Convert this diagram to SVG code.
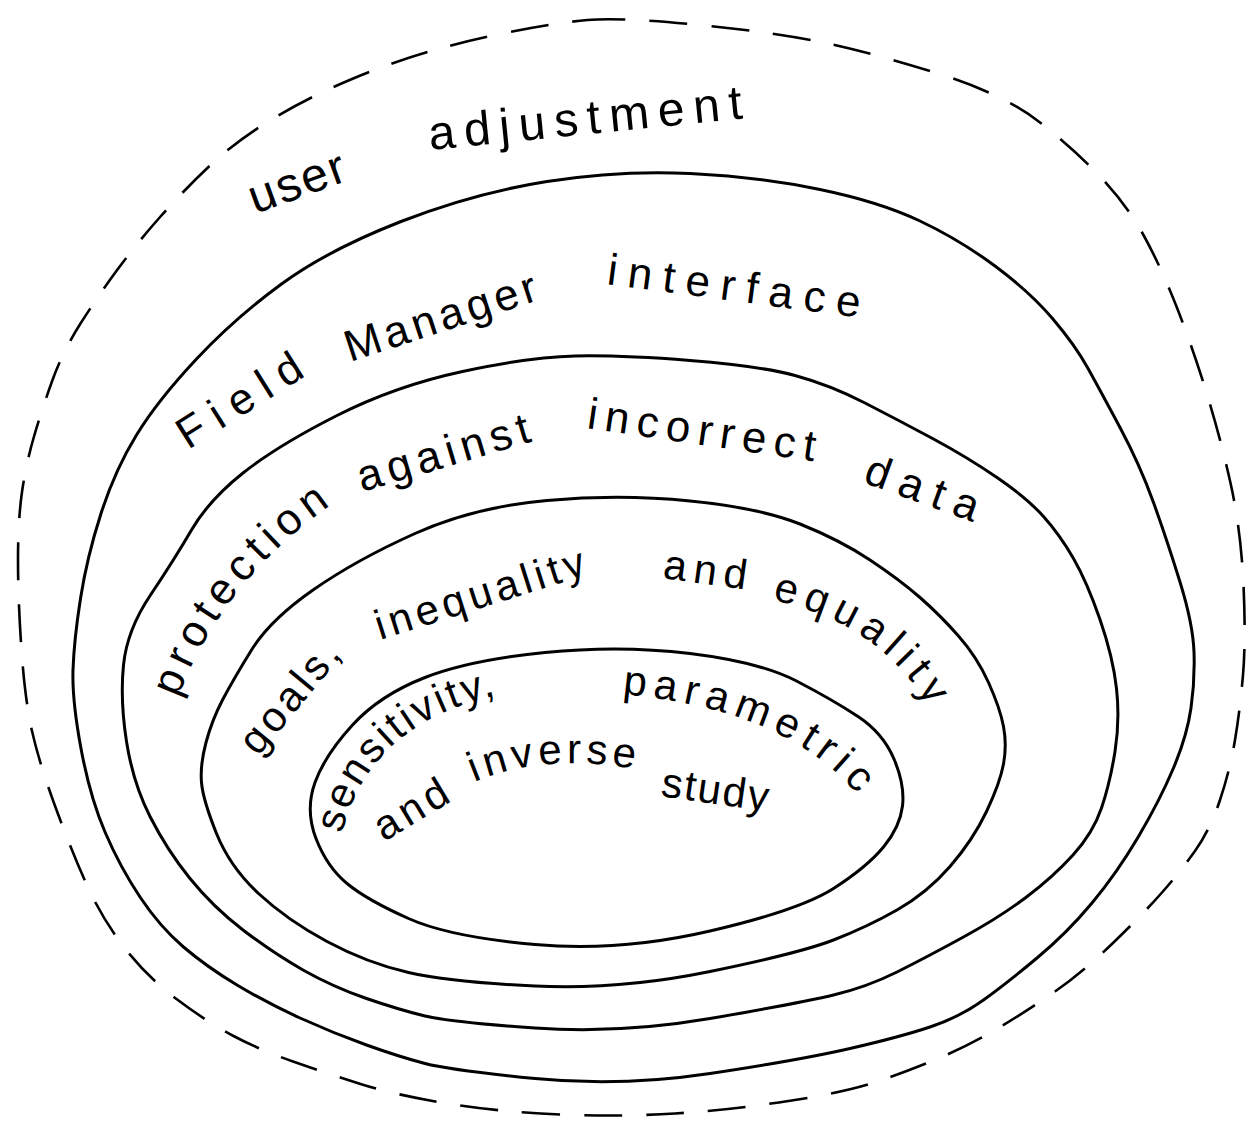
<svg xmlns="http://www.w3.org/2000/svg" width="1249" height="1129" viewBox="0 0 1249 1129">
<style>
.ring{fill:none;stroke:#000;stroke-width:3;stroke-linejoin:round}
.dash{stroke-dasharray:38 24;stroke-width:2.6}
.t{font-family:"Liberation Sans",Arial,sans-serif;fill:#000}
.lg{font-size:48px}
.md{font-size:44px}
.sm{font-size:42px}
</style>
<defs>
<path id="p-user" d="M 255 214 L 355 178"/>
<path id="p-adj" d="M 430 150 L 748 118"/>
<path id="p-field" d="M 188 450 L 312 372"/>
<path id="p-manager" d="M 350 362 L 545 298"/>
<path id="p-interface" d="M 606 284 L 862 318"/>
<path id="p-protection" d="M 178 698 Q 222 580 335 502"/>
<path id="p-against" d="M 362 492 L 537 440"/>
<path id="p-incorrect" d="M 586 428 L 818 462"/>
<path id="p-data" d="M 862 482 L 978 524"/>
<path id="p-goals" d="M 258 757 L 345 652"/>
<path id="p-inequality" d="M 380 640 L 595 572"/>
<path id="p-and1" d="M 662 578 L 748 590"/>
<path id="p-equality" d="M 772 600 Q 880 622 932 712"/>
<path id="p-sens" d="M 342 834 Q 370 720 504 694"/>
<path id="p-param" d="M 622 694 Q 790 710 860 798"/>
<path id="p-and2" d="M 384 842 L 460 796"/>
<path id="p-inverse" d="M 474 782 Q 547 752 640 770"/>
<path id="p-study" d="M 660 796 L 772 812"/>
</defs>
<rect width="1249" height="1129" fill="#fff"/>

<g id="ring-user-adjustment">
<path class="ring dash" d="M 587.5 20 Q 620 17 700 25 Q 780 33 830 44 Q 880 55 942.5 75 Q 1005 95 1040 122.5 Q 1075 150 1101 177.5 Q 1127 205 1144 236 Q 1161 267 1176.5 306.5 Q 1192 346 1206 391 Q 1220 436 1230.5 483 Q 1241 530 1243.5 585 Q 1246 640 1243 675 Q 1240 710 1235 740 Q 1230 770 1220 800 Q 1210 830 1195 851 Q 1180 872 1162 892.5 Q 1144 913 1113.5 942.5 Q 1083 972 1055 991.5 Q 1027 1011 998.5 1028 Q 970 1045 940.5 1057.5 Q 911 1070 879 1081 Q 847 1092 788.5 1101 Q 730 1110 675 1113.5 Q 620 1117 560 1114.5 Q 500 1112 447.5 1103.5 Q 395 1095 360.5 1084 Q 326 1073 293 1061.5 Q 260 1050 233.5 1036 Q 207 1022 176.5 999 Q 146 976 123.5 946.5 Q 101 917 85.5 882 Q 70 847 54.5 804.5 Q 39 762 32 731 Q 25 700 21.5 650 Q 18 600 18 560 Q 18 520 22 492 Q 26 464 34 436.5 Q 42 409 52.5 380 Q 63 351 80.5 323.5 Q 98 296 117.5 269.5 Q 137 243 160.5 216.5 Q 184 190 210 165.5 Q 236 141 271.5 119.5 Q 307 98 348.5 80.5 Q 390 63 427.5 52 Q 465 41 510 32 Q 555 23 587.5 20 Z"/>
<text class="t lg"><textPath href="#p-user" textLength="100" lengthAdjust="spacing">user</textPath></text>
<text class="t lg"><textPath href="#p-adj" textLength="315" lengthAdjust="spacing">adjustment</textPath></text>
</g>

<g id="ring-field-manager">
<path class="ring" d="M 547 181.5 Q 620 170 690 173.5 Q 760 177 820 189.5 Q 880 202 920 221 Q 960 240 995 266 Q 1030 292 1052.5 318.5 Q 1075 345 1087.5 367.5 Q 1100 390 1120 427.5 Q 1140 465 1153.5 502.5 Q 1167 540 1180 582 Q 1193 624 1194 652 Q 1195 680 1191 708 Q 1187 736 1173.5 768 Q 1160 800 1138.5 836.5 Q 1117 873 1092 903 Q 1067 933 1037 958 Q 1007 983 983.5 1000 Q 960 1017 930 1027 Q 900 1037 850 1048.5 Q 800 1060 710 1073.5 Q 620 1087 535 1078.5 Q 450 1070 425 1063.5 Q 400 1057 366.5 1045 Q 333 1033 300 1018 Q 267 1003 237 985 Q 207 967 183.5 947 Q 160 927 140 897 Q 120 867 105 832 Q 90 797 81 748.5 Q 72 700 73 670 Q 74 640 80.5 598.5 Q 87 557 101 513.5 Q 115 470 136.5 435 Q 158 400 196.5 359 Q 235 318 281.5 284 Q 328 250 401 221.5 Q 474 193 547 181.5 Z"/>
<text class="t md"><textPath href="#p-field" textLength="140" lengthAdjust="spacing">Field</textPath></text>
<text class="t md"><textPath href="#p-manager" textLength="200" lengthAdjust="spacing">Manager</textPath></text>
<text class="t md"><textPath href="#p-interface" textLength="255" lengthAdjust="spacing">interface</textPath></text>
</g>

<g id="ring-protection">
<path class="ring" d="M 575 356 Q 620 355 690 360.5 Q 760 366 795 375.5 Q 830 385 865 403 Q 900 421 933.5 439 Q 967 457 997 477.5 Q 1027 498 1043.5 516.5 Q 1060 535 1073.5 558.5 Q 1087 582 1100 619.5 Q 1113 657 1116.5 688.5 Q 1120 720 1115 751.5 Q 1110 783 1101.5 808 Q 1093 833 1073 855 Q 1053 877 1026.5 897 Q 1000 917 963.5 937 Q 927 957 897 972 Q 867 987 833.5 995 Q 800 1003 710 1018.5 Q 620 1034 535 1028 Q 450 1022 425 1016 Q 400 1010 366.5 998.5 Q 333 987 303 970 Q 273 953 243 930 Q 213 907 190 878.5 Q 167 850 150 816.5 Q 133 783 126.5 741.5 Q 120 700 123.5 665 Q 127 630 150.5 595 Q 174 560 191.5 530 Q 209 500 243 473 Q 277 446 336 416 Q 395 386 462.5 371.5 Q 530 357 575 356 Z"/>
<text class="t md"><textPath href="#p-protection" textLength="250" lengthAdjust="spacing">protection</textPath></text>
<text class="t md"><textPath href="#p-against" textLength="178" lengthAdjust="spacing">against</textPath></text>
<text class="t md"><textPath href="#p-incorrect" textLength="230" lengthAdjust="spacing">incorrect</textPath></text>
<text class="t md"><textPath href="#p-data" textLength="118" lengthAdjust="spacing">data</textPath></text>
</g>

<g id="ring-goals">
<path class="ring" d="M 547 500.5 Q 620 494 690 501 Q 760 508 800 524 Q 840 540 870 560 Q 900 580 920 597.5 Q 940 615 958.5 636 Q 977 657 988.5 682.5 Q 1000 708 1003.5 726.5 Q 1007 745 1003.5 764 Q 1000 783 986.5 811.5 Q 973 840 950 866.5 Q 927 893 897 910 Q 867 927 833.5 940 Q 800 953 710 971.5 Q 620 990 535 986 Q 450 982 408.5 972.5 Q 367 963 327 941.5 Q 287 920 258.5 893.5 Q 230 867 216.5 833.5 Q 203 800 201.5 782.5 Q 200 765 206 742.5 Q 212 720 222.5 700 Q 233 680 251.5 650 Q 270 620 313 590 Q 356 560 415 533.5 Q 474 507 547 500.5 Z"/>
<text class="t sm"><textPath href="#p-goals" textLength="132" lengthAdjust="spacing">goals,</textPath></text>
<text class="t sm"><textPath href="#p-inequality" textLength="218" lengthAdjust="spacing">inequality</textPath></text>
<text class="t sm"><textPath href="#p-and1" textLength="84" lengthAdjust="spacing">and</textPath></text>
<text class="t sm"><textPath href="#p-equality" textLength="195" lengthAdjust="spacing">equality</textPath></text>
</g>

<g id="ring-sensitivity">
<path class="ring" d="M 545 652.5 Q 620 645 690 653.5 Q 760 662 796.5 681 Q 833 700 858 716.5 Q 883 733 894 759 Q 905 785 902.5 806 Q 900 827 883.5 847 Q 867 867 833.5 888.5 Q 800 910 710 931 Q 620 952 535 944.5 Q 450 937 408.5 918.5 Q 367 900 347 883.5 Q 327 867 316 838.5 Q 305 810 315 782.5 Q 325 755 352.5 725 Q 380 695 425 677.5 Q 470 660 545 652.5 Z"/>
<text class="t sm"><textPath href="#p-sens" textLength="220" lengthAdjust="spacing">sensitivity,</textPath></text>
<text class="t sm"><textPath href="#p-param" textLength="262" lengthAdjust="spacing">parametric</textPath></text>
<text class="t sm"><textPath href="#p-and2" textLength="80" lengthAdjust="spacing">and</textPath></text>
<text class="t sm"><textPath href="#p-inverse" textLength="163" lengthAdjust="spacing">inverse</textPath></text>
<text class="t sm"><textPath href="#p-study" textLength="108" lengthAdjust="spacing">study</textPath></text>
</g>
</svg>
